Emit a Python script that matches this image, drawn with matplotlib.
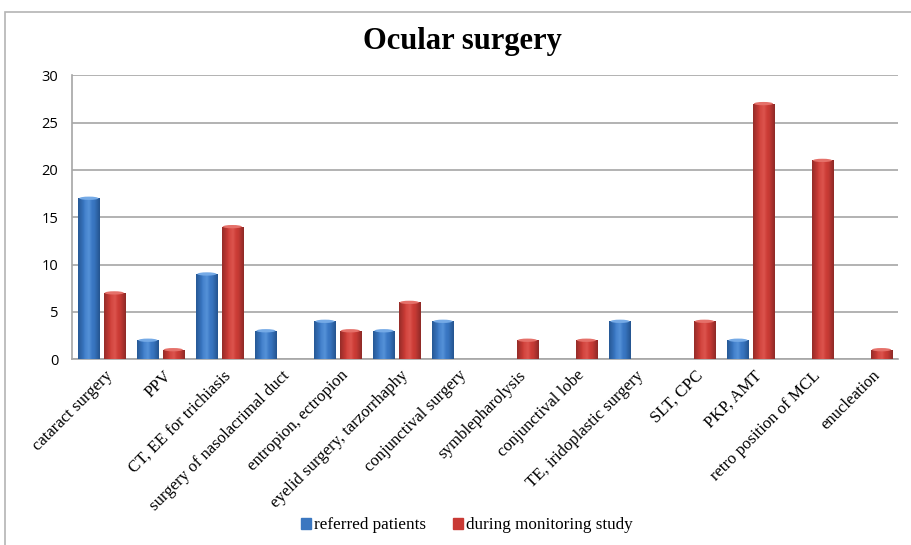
import numpy as np
import matplotlib
matplotlib.use("Agg")
import matplotlib.pyplot as plt
from matplotlib.patches import Rectangle, Ellipse

categories = ["cataract surgery", "PPV", "CT, EE for trichiasis",
              "surgery of nasolacrimal duct", "entropion, ectropion",
              "eyelid surgery, tarzorrhaphy", "conjunctival surgery",
              "symblepharolysis", "conjunctival lobe", "TE, iridoplastic surgery",
              "SLT, CPC", "PKP, AMT", "retro position of MCL", "enucleation"]
referred = [17, 2, 9, 3, 4, 3, 4, 0, 0, 4, 0, 2, 0, 0]
monitoring = [7, 1, 14, 0, 3, 6, 0, 2, 2, 0, 4, 27, 21, 1]
series_names = ["referred patients", "during monitoring study"]

fig = plt.figure(figsize=(9.12, 5.45), dpi=100)
ax = fig.add_axes([0.079, 0.341, 0.906, 0.521])

# frame around the chart
fig.patches.append(Rectangle((0.006, -0.1), 1.2, 1.078, transform=fig.transFigure,
                             fill=False, edgecolor="#b4b4b4", lw=1.2))


def cylinder(color_dark, color_mid, color_light):
    # horizontal shading for a cylinder look
    t = np.linspace(0, 1, 64)
    prof = np.interp(t, [0, 0.3, 0.5, 0.75, 1], [0.1, 0.9, 1, 0.75, 0.0])
    dark = np.array(matplotlib.colors.to_rgb(color_dark))
    mid = np.array(matplotlib.colors.to_rgb(color_mid))
    light = np.array(matplotlib.colors.to_rgb(color_light))
    rows = []
    for p in prof:
        if p < 0.85:
            rows.append(dark + (mid - dark) * p / 0.85)
        else:
            rows.append(mid + (light - mid) * (p - 0.85) / 0.15)
    return np.array(rows)[None, :, :]


x = np.arange(len(categories))
w = 0.36
gap = 0.035
blue_bars = ax.bar(x - w / 2 - gap, referred, w, color="#3b77c0", zorder=2)
red_bars = ax.bar(x + w / 2 + gap, monitoring, w, color="#c93a35", zorder=2)

grads = [cylinder("#24548f", "#3a78c4", "#5592d8"),
         cylinder("#8e2a27", "#cc3c36", "#dc544d")]
tops = ["#75aae6", "#e5716a"]
for bars, grad, top in zip([blue_bars, red_bars], grads, tops):
    for b in bars:
        h = b.get_height()
        if h <= 0:
            continue
        x0 = b.get_x()
        bw = b.get_width()
        im = ax.imshow(grad, extent=[x0, x0 + bw, 0, h], aspect="auto",
                       zorder=3, interpolation="bilinear")
        im.set_clip_path(b)
        ax.add_patch(Ellipse((x0 + bw / 2, h), bw * 0.9, 0.35,
                             color=top, zorder=4, lw=0))

ax.set_xlim(-0.5, len(categories) - 0.5)
ax.set_ylim(0, 30)
ax.set_yticks(range(0, 31, 5))
ax.yaxis.grid(True, color="#a6a6a6", lw=1.2, zorder=0)
ax.set_axisbelow(True)
for s in ["top", "right"]:
    ax.spines[s].set_visible(False)
ax.spines["left"].set_color("#a6a6a6")
ax.spines["bottom"].set_color("#a6a6a6")
ax.spines["left"].set_linewidth(1.2)
ax.spines["bottom"].set_linewidth(1.2)
ax.tick_params(axis="both", length=0)
ax.tick_params(axis="y", pad=10, labelsize=10.5)
for lab in ax.get_yticklabels():
    lab.set_family("Open Sans")

ax.set_xticks(x + 0.05)
ax.set_xticklabels(categories, rotation=45, ha="right", rotation_mode="anchor",
                   family="Liberation Serif", fontsize=12.1)
ax.tick_params(axis="x", pad=6)

fig.text(0.507, 0.924, "Ocular surgery", ha="center", va="center",
         family="Liberation Serif", fontweight="bold", fontsize=22)

handles = [Rectangle((0, 0), 1, 1, color="#3b77c0"),
           Rectangle((0, 0), 1, 1, color="#c93a35")]
fig.legend(handles, series_names, loc="center", bbox_to_anchor=(0.512, 0.036),
           ncol=2, frameon=False, prop={"family": "Liberation Serif", "size": 12.3},
           handlelength=0.6, handleheight=0.6, handletextpad=0.15, columnspacing=1.6)

fig.savefig("out.png", dpi=100)
